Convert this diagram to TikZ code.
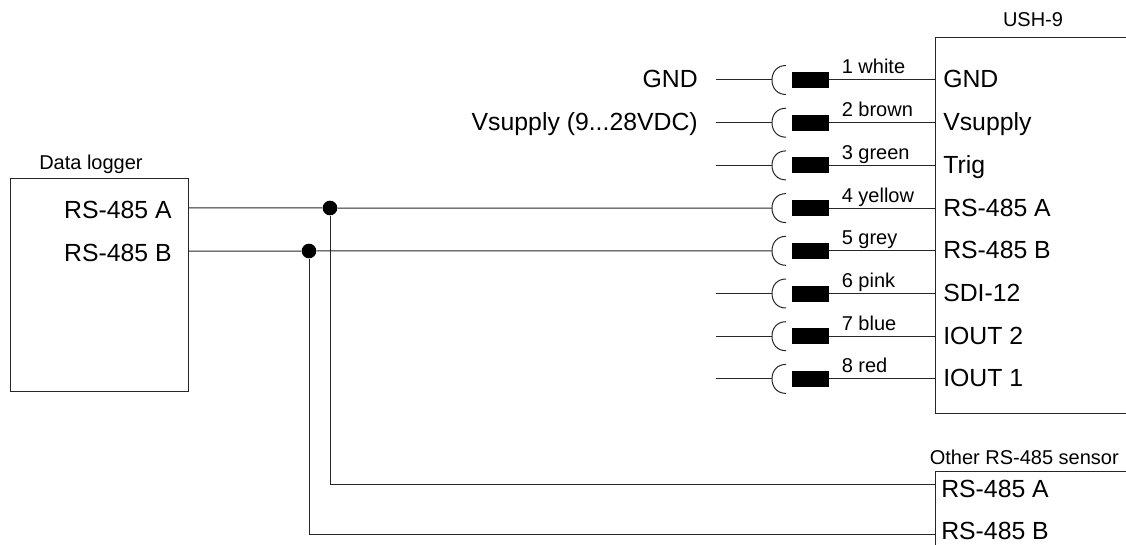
\documentclass[tikz,border=0pt]{standalone}
\usepackage{fontspec}
\setmainfont{Liberation Sans}
\usetikzlibrary{positioning, calc}
\newcommand{\rowy}[1]{80+42.7*(#1-1)}

\begin{document}
\begin{tikzpicture}[
        x=0.75pt, y=-0.75pt,
        wire/.style={line width=0.75pt, draw=black!85},
        plug/.style={fill=black, draw=none, inner sep=0pt, minimum width=27.75pt, minimum height=12pt},
        dot/.style={circle, fill=black, inner sep=0pt, minimum size=11pt},
        pinname/.style={font=\fontsize{18.6}{20}\selectfont, inner sep=0pt},
        capname/.style={font=\fontsize{15}{17}\selectfont, inner sep=0pt},
        wirename/.style={font=\fontsize{15}{17}\selectfont, inner sep=0pt, anchor=base west}
    ]
        \useasboundingbox (0,0) rectangle (1126,545);

        % Data logger
        \node[wire, draw, minimum width=133.5pt, minimum height=159.75pt, inner sep=0pt, anchor=north west] (logger) at (10,178) {};
        \node[capname, anchor=base west] (loggername) at (39,170) {Data logger};
        \node[pinname, anchor=base east] (loggera) at (172,219) {RS-485 A};
        \node[pinname, anchor=base east] (loggerb) at (172,261.5) {RS-485 B};
        \coordinate (la) at (188,208);
        \coordinate (lb) at (188,251);

        % USH-9
        \draw[wire] (1126,37.5) -| (935,413.5) -- (1126,413.5);
        \node[capname, anchor=base] (ushname) at (1033,27) {USH-9};

        % Connector rows
        \foreach \i/\pin/\col in {1/GND/white, 2/Vsupply/brown, 3/Trig/green, 4/RS-485 A/yellow,
                                  5/RS-485 B/grey, 6/SDI-12/pink, 7/IOUT 2/blue, 8/IOUT 1/red} {
            \coordinate (c\i) at (772,{\rowy{\i}});
            \coordinate (e\i) at (935,{\rowy{\i}});
            \node[plug] (p\i) at (810.5,{\rowy{\i}}) {};
            \node[pinname, anchor=base west] (t\i) at (943,{\rowy{\i}+8}) {\pin};
            \node[wirename] (w\i) at (841.5,{\rowy{\i}-6}) {\i\ \col};
            \draw[wire] (p\i) -- (e\i);
            \draw[wire] (786,{\rowy{\i}-14.5}) .. controls (777,{\rowy{\i}-14.5}) and (772,{\rowy{\i}-8}) .. (c\i)
                .. controls (772,{\rowy{\i}+8}) and (777,{\rowy{\i}+14.5}) .. (786,{\rowy{\i}+14.5});
        }

        % Free wire ends
        \foreach \i in {1,2,3,6,7,8} {
            \coordinate (f\i) at (716,{\rowy{\i}});
            \draw[wire] (f\i) -- (c\i);
        }
        \node[pinname, anchor=base east] (gnd) at (698,88) {GND};
        \node[pinname, anchor=base east] (vsupply) at (698,131) {Vsupply (9...28VDC)};

        % Other sensor
        \draw[wire] (1126,471) -| (935,545);
        \node[capname, anchor=base east] (othername) at (1119,464) {Other RS-485 sensor};
        \node[pinname, anchor=base west] (oa) at (941,497) {RS-485 A};
        \node[pinname, anchor=base west] (ob) at (941,539) {RS-485 B};
        \coordinate (ea) at (935,484.5);
        \coordinate (eb) at (935,534);

        % Bus
        \node[dot] (da) at (330,208) {};
        \node[dot] (db) at (309,251) {};
        \draw[wire] (la) -- (da) -- (c4);
        \draw[wire] (lb) -- (db) -- (c5);
        \draw[wire] (da) |- (ea);
        \draw[wire] (db) |- (eb);
    \end{tikzpicture}
\end{document}
